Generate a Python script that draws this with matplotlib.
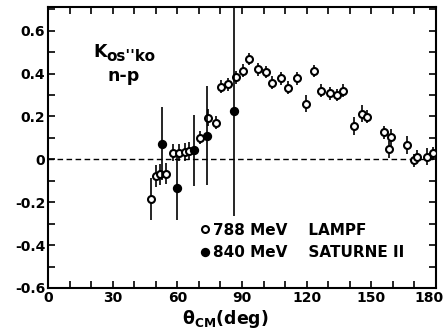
import matplotlib
matplotlib.use('Agg')
import matplotlib.pyplot as plt
from matplotlib.ticker import MultipleLocator

plt.rcParams['font.family'] = ['DejaVu Sans']
plt.rcParams['mathtext.default'] = 'regular'
plt.rcParams['axes.unicode_minus'] = False

# LAMPF 788 MeV (open circles)
lampf_theta = [47.8, 50.0, 52.0, 54.7, 58.1, 61.0, 63.5, 65.6, 70.5, 74.4,
               77.9, 80.2, 83.6, 87.2, 90.6, 93.3, 97.6, 101.2, 104.1, 108.0,
               111.5, 115.4, 119.8, 123.4, 126.8, 131.0, 134.3, 136.7, 141.9, 145.9,
               148.2, 155.8, 158.0, 159.1, 166.5, 169.6, 171.2, 175.8, 178.4]
lampf_k = [-0.185, -0.078, -0.07, -0.067, 0.031, 0.03, 0.034, 0.039, 0.10, 0.194,
           0.17, 0.338, 0.349, 0.383, 0.414, 0.468, 0.42, 0.407, 0.358, 0.377,
           0.334, 0.378, 0.26, 0.412, 0.32, 0.308, 0.30, 0.32, 0.155, 0.212,
           0.199, 0.125, 0.047, 0.102, 0.067, -0.005, 0.012, 0.013, 0.028]
lampf_err = [0.10, 0.05, 0.05, 0.05, 0.04, 0.04, 0.04, 0.04, 0.03, 0.04,
             0.03, 0.03, 0.03, 0.03, 0.03, 0.03, 0.03, 0.03, 0.03, 0.03,
             0.03, 0.03, 0.04, 0.03, 0.03, 0.03, 0.03, 0.03, 0.04, 0.04,
             0.03, 0.03, 0.04, 0.04, 0.04, 0.03, 0.03, 0.04, 0.03]

# SATURNE II 840 MeV (filled circles)
sat_theta = [52.7, 59.7, 67.7, 74.0, 86.3]
sat_k = [0.073, -0.136, 0.042, 0.11, 0.225]
sat_err = [0.17, 0.145, 0.165, 0.23, 0.49]

fig = plt.figure(figsize=(4.44, 3.36), dpi=100)
ax = fig.add_axes([0.108, 0.143, 0.874, 0.836])

eb1 = ax.errorbar(lampf_theta, lampf_k, yerr=lampf_err, fmt='o', mfc='white', mec='black',
                  ecolor='black', ms=5, mew=1.5, elinewidth=1.2, capsize=0,
                  label='788 MeV    LAMPF', zorder=3)
eb2 = ax.errorbar(sat_theta, sat_k, yerr=sat_err, fmt='o', mfc='black', mec='black',
                  ecolor='black', ms=5.5, mew=1.2, elinewidth=1.2, capsize=0,
                  label='840 MeV    SATURNE II', zorder=4)
ax.axhline(0, color='black', lw=1.0, ls=(0, (4, 2.5)), zorder=1)

ax.set_xlim(0, 180)
ax.set_ylim(-0.6, 0.71)
ax.xaxis.set_major_locator(MultipleLocator(30))
ax.xaxis.set_minor_locator(MultipleLocator(10))
ax.yaxis.set_major_locator(MultipleLocator(0.2))
ax.yaxis.set_minor_locator(MultipleLocator(0.1))
# the 180 label sits left of its tick, drawn separately below
ax.xaxis.set_major_formatter(plt.FuncFormatter(lambda v, p: '' if v > 179 else '%d' % v))
ax.yaxis.set_major_formatter(plt.FuncFormatter(lambda v, p: '0' if abs(v) < 1e-9 else '%.1f' % v))
ax.tick_params(which='both', direction='in', top=True, right=True, width=1.2,
               labelsize=10, pad=2, length=5)
for lab in ax.get_xticklabels() + ax.get_yticklabels():
    lab.set_fontweight('bold')
ax.annotate('180', xy=(1, 0), xycoords='axes fraction', xytext=(-5, -2),
            textcoords='offset points', ha='center', va='top',
            fontsize=10, fontweight='bold')
for s in ax.spines.values():
    s.set_linewidth(1.5)

ax.text(20.9, 0.479, "K", fontsize=12.5, fontweight='bold', va='baseline')
ax.text(26.9, 0.46, "os''ko", fontsize=11, fontweight='bold', va='baseline')
ax.text(35.0, 0.363, 'n-p', fontsize=12.5, fontweight='bold', ha='center', va='baseline')
ax.set_xlabel(r'$\theta_{CM}$(deg)', fontsize=12.5, fontweight='bold')
ax.xaxis.set_label_coords(0.456, -0.071)

# legend shows plain markers, no error bars
leg = ax.legend([eb1[0], eb2[0]], [eb1.get_label(), eb2.get_label()],
                loc='upper left', bbox_to_anchor=(0.358, 0.281), frameon=False,
                handlelength=0.6, handletextpad=0.2, labelspacing=0.5,
                borderpad=0.4, prop={'size': 11, 'weight': 'bold'})

fig.savefig('out.png', dpi=100)
